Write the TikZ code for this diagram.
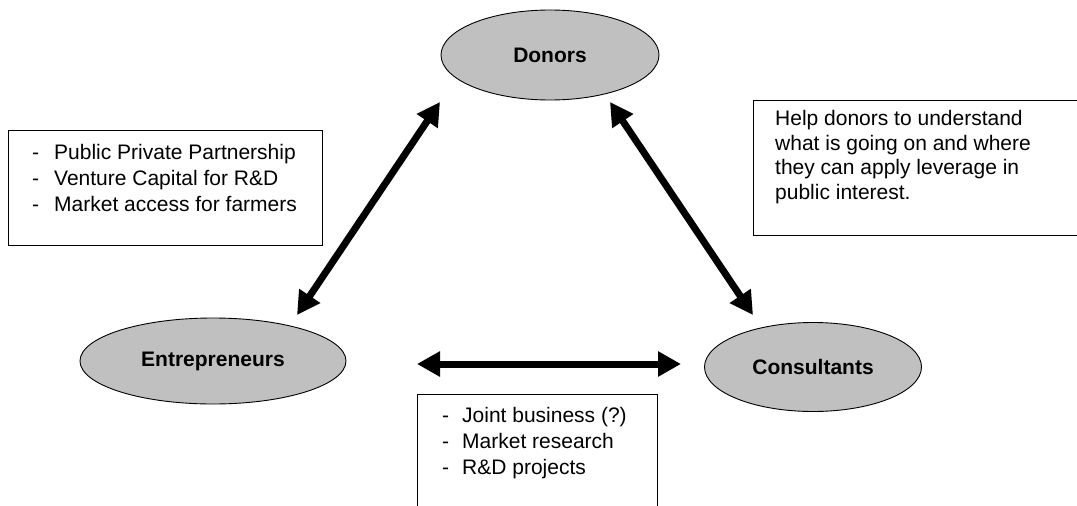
\documentclass[tikz,border=0pt]{standalone}
\usepackage{fontspec}
\setmainfont{Liberation Sans}
\usetikzlibrary{arrows.meta,shapes.geometric}

\definecolor{partygray}{RGB}{192,192,192}

\begin{document}
\begin{tikzpicture}[x={(1pt,0pt)},y={(0pt,-1pt)},
  font=\fontsize{21}{26}\selectfont,
  party/.style={ellipse,draw,line width=0.9pt,fill=partygray,inner sep=0pt,font=\fontsize{21}{26}\selectfont\bfseries},
  notebox/.style={draw,line width=1pt,inner sep=0pt},
  link/.style={line width=7pt,{Triangle[length=23pt,width=24pt]}-{Triangle[length=23pt,width=24pt]}}]
\useasboundingbox (0,0) rectangle (1077,506);
\clip (0,0) rectangle (1077,506);
% the three parties
\node[party,minimum width=218pt,minimum height=90pt] (donors) at (550,55) {Donors};
\node[party,minimum width=266pt,minimum height=86pt] (entre) at (213,361) {Entrepreneurs};
\node[party,minimum width=217pt,minimum height=89pt] (consult) at (813,367) {Consultants};
% notes
\node[notebox,minimum width=314pt,minimum height=115pt] (pppbox) at (165,187.5) {};
\node[anchor=base west,inner sep=0pt] (ppptext) at (32,159.5)
  {\begin{tabular}[t]{@{}l@{\hspace{15pt}}l@{}}
   - & Public Private Partnership\\
   - & Venture Capital for R\&D\\
   - & Market access for farmers
   \end{tabular}};
\node[notebox,minimum width=360pt,minimum height=135pt] (helpbox) at (933,167.5) {};
\node[anchor=base west,inner sep=0pt,font=\fontsize{21}{24.7}\selectfont] (helptext) at (775,125.5)
  {\begin{tabular}[t]{@{}l@{}}
   Help donors to understand\\
   what is going on and where\\
   they can apply leverage in\\
   public interest.
   \end{tabular}};
\node[notebox,minimum width=240pt,minimum height=140pt] (jointbox) at (537,464) {};
\node[anchor=base west,inner sep=0pt] (jointtext) at (442,422.5)
  {\begin{tabular}[t]{@{}l@{\hspace{13pt}}l@{}}
   - & Joint business (?)\\
   - & Market research\\
   - & R\&D projects
   \end{tabular}};
% arrows between the parties
\coordinate (donL) at ([shift={(-110,47)}]donors.center);
\coordinate (donR) at ([shift={(60,47)}]donors.center);
\coordinate (entU) at ([shift={(84,-46)}]entre.center);
\coordinate (entR) at ([shift={(204,3)}]entre.center);
\coordinate (conU) at ([shift={(-60,-52)}]consult.center);
\coordinate (conL) at ([shift={(-132,-3)}]consult.center);
\draw[link] (donL) -- (entU);
\draw[link] (donR) -- (conU);
\draw[link] (entR) -- (conL);
\end{tikzpicture}
\end{document}
